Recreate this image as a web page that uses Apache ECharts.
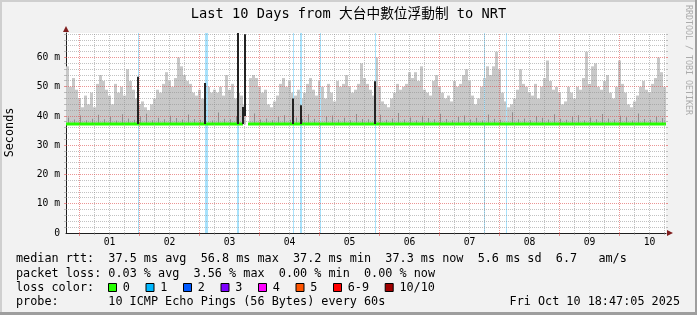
<!DOCTYPE html>
<html><head><meta charset="utf-8">
<script src="https://cdn.jsdelivr.net/npm/echarts@6/dist/echarts.min.js"></script>
<style>html,body{margin:0;padding:0;background:#f2f2f2}#c{width:697px;height:315px}</style>
</head><body><div id="c"></div>
<script>
// ---------- data (hours relative to Oct 1 00:00 local) ----------
const START_HOUR = -5.4;
const END_HOUR = 234.6;
const BIN_HOURS = 1.2;

const smokeFloor = 37.1;
const smokeTop = [
  57,50,53,49,46,43,47,44,48,43, 51,54,52,49,47,44,51,48,50,47,
  56,52,49,46,44,45,43,42,44,46, 49,48,51,55,52,50,53,60,57,54,
  52,51,48,47,49,46,45,50,48,49,
  48,50,47,54,49,51,46,48,47,44, null,53,54,53,50,48,49,44,43,45,
  47,51,53,50,52,48,47,49,46,48, 51,53,49,47,52,50,46,51,48,45,
  52,50,51,54,50,48,49,51,58,53,
  51,49,47,60,50,45,44,43,46,48, 51,49,50,51,55,53,55,52,57,49,
  48,47,52,54,50,48,46,47,45,52, 50,51,54,56,52,47,44,46,50,53,
  57,54,57,62,56,48,45,43,44,46,
  49,56,51,50,48,47,51,46,50,53, 59,52,49,50,48,44,45,50,48,46,
  50,49,53,62,51,57,58,50,49,52, 54,48,46,50,59,51,48,44,43,45,
  47,50,52,49,48,51,53,60,55,50
];
// darker smoke band near the base, one value per two bins
const darkSmoke = [
  39.5,38.8,40.2,38.6,39.1,40.4,38.9,39.8,38.5,40.6,
  39.2,38.7,39.9,40.8,38.6,39.4,38.9,40.1,39.3,38.8,
  40.5,39.0,38.7,39.6,38.5,41.2,39.1,38.9,40.0,38.6,
  null,40.9,38.8,39.2,38.6,39.8,40.3,38.7,39.5,38.9,
  40.6,39.1,38.5,39.9,40.2,38.8,39.4,38.6,40.7,39.0,
  38.9,39.6,40.4,38.7,39.2,41.0,38.8,39.5,38.6,40.1,
  39.3,38.9,40.8,39.0,38.6,39.7,40.2,38.8,39.4,38.5,
  40.5,39.1,38.7,39.8,41.3,38.9,39.2,38.6,40.0,39.4,
  38.8,40.6,39.1,38.7,39.9,40.3,38.6,39.5,38.9,40.7,
  39.2,38.8,40.1,39.6,38.5,40.9,39.0,38.7,39.8,39.3
];
// median rtt: flat segments [start hour, end hour, value]
const medianStart = [-5.4, 67.5];
const medianEnd   = [65.5, 234.6];
const medianValue = [37.3, 37.3];
// dark spikes of the median
const spikeHours = [23.4, 50.2, 63.2, 65.4, 66.2, 85.4, 88.7, 118.2];
const spikeLow   = [37.3, 37.3, 37.3, 37.3, 40.0, 37.3, 37.3, 37.3];
const spikeHigh  = [53.4, 51.3, 68.4, 43.1, 68.0, 46.0, 43.7, 51.9];
// loss (1/10) periods
const lossHours    = [23.6, 50.8, 63.4, 85.6, 88.6, 96.4, 118.4, 162.0, 170.8];
const lossDuration = [0.4, 1.2, 0.8, 0.4, 0.8, 0.4, 0.4, 0.4, 0.4];

const dayLabels = ['01','02','03','04','05','06','07','08','09','10'];
const dayLabelHours = [12,36,60,84,108,132,156,180,204,228];
const midnightHours = [0,24,48,72,96,120,144,168,192,216];
const yTickLabels = ['0','10 m','20 m','30 m','40 m','50 m','60 m'];

const rttValues = ['37.5','56.8','37.2','37.3'];
const rttSd = '5.6', rttAms = '6.7';
const lossValues = ['0.03','3.56','0.00','0.00'];
const lossLabels = ['0','1','2','3','4','5','6-9','10/10'];
const lossColors = ['#26ff00','#00b8ff','#0059ff','#7e00ff','#ff00ff','#ff5500','#ff0000','#a10000'];
const probeText = '10 ICMP Echo Pings (56 Bytes) every 60s';
const stampText = 'Fri Oct 10 18:47:05 2025';
const titleText = 'Last 10 Days from 大台中數位浮動制 to NRT';

// ---------- styles ----------
const MONO = '"DejaVu Sans Mono", "Noto Sans CJK TC", monospace';
const MINOR = 'rgba(143,143,143,0.55)';
const MAJOR = 'rgba(222,79,79,0.6)';
const YMAX = 68.4;

function binCenter(i){ return START_HOUR + BIN_HOURS*(i+0.5); }

const smokeData = [];
smokeTop.forEach((v,i)=>{ if(v!=null) smokeData.push([binCenter(i), smokeFloor, v, BIN_HOURS]); });
const darkData = [];
darkSmoke.forEach((v,j)=>{ if(v!=null) darkData.push([binCenter(2*j)+0.3, smokeFloor, v, 0]); });
const spikeData = spikeHours.map((h,i)=>[h, spikeLow[i], spikeHigh[i], 0]);
const lossData = lossHours.map((h,i)=>[h, 0, YMAX, lossDuration[i]]);
const medianData = medianStart.map((s,i)=>[s, medianEnd[i], medianValue[i]]);

const gridItems = [];
for (let h = 6; h < END_HOUR; h += 6) if (h % 24 !== 0) gridItems.push([0,h,0]);
midnightHours.forEach(h=>gridItems.push([0,h,1]));
for (let v = 2; v < YMAX; v += 2) gridItems.push([1, v, v % 10 === 0 ? 1 : 0]);

function rangeRect(color, minPx){
  return function(params, api){
    const t = api.value(0), lo = api.value(1), hi = api.value(2), w = api.value(3);
    const a = api.coord([t - w/2, hi]), b = api.coord([t + w/2, lo]);
    let x0 = Math.round(a[0]), x1 = Math.round(b[0]);
    if (x1 - x0 < minPx){ const c = Math.round((a[0]+b[0])/2 - minPx/2); x0 = c; x1 = c + minPx; }
    return {type:'rect', shape:{x:x0, y:a[1], width:x1-x0, height:b[1]-a[1]}, style:{fill:color}};
  };
}
function medianRender(params, api){
  const s = api.value(0), e = api.value(1), v = api.value(2);
  const a = api.coord([s, v]), b = api.coord([e, v]);
  const y = Math.round(a[1]) - 1.5;
  return {type:'rect', shape:{x:Math.round(a[0]), y:y, width:Math.round(b[0])-Math.round(a[0]), height:3}, style:{fill:'#26ff00'}};
}
function gridRender(params, api){
  const cs = params.coordSys;
  const orient = api.value(0), val = api.value(1), major = api.value(2);
  const color = major ? MAJOR : MINOR;
  if (orient === 0){
    const x = Math.floor(api.coord([val, 0])[0]) + 0.5;
    const yb = cs.y + cs.height;
    return {type:'group', children:[
      {type:'line', shape:{x1:x, y1:yb, x2:x, y2:cs.y}, style:{stroke:color, lineWidth:1, lineDash:[1,1]}},
      {type:'line', shape:{x1:x, y1:yb, x2:x, y2:yb+(major?3:2)}, style:{stroke:color, lineWidth:1}}
    ]};
  }
  const y = Math.floor(api.coord([START_HOUR, val])[1]) + 0.5;
  return {type:'group', children:[
    {type:'line', shape:{x1:cs.x, y1:y, x2:cs.x+cs.width, y2:y}, style:{stroke:color, lineWidth:1, lineDash:[1,1]}},
    {type:'line', shape:{x1:cs.x-2, y1:y, x2:cs.x, y2:y}, style:{stroke:color, lineWidth:1}},
    {type:'line', shape:{x1:cs.x+cs.width, y1:y, x2:cs.x+cs.width+2, y2:y}, style:{stroke:color, lineWidth:1}}
  ]};
}

// ---------- legend texts ----------
const row1 = `median rtt:  ${rttValues[0]} ms avg  ${rttValues[1]} ms max  ${rttValues[2]} ms min  ${rttValues[3]} ms now  ${rttSd} ms sd  ${rttAms}   am/s`;
const row2 = `packet loss: ${lossValues[0]} % avg  ${lossValues[1]} % max  ${lossValues[2]} % min  ${lossValues[3]} % now`;
const LEG_FONT = '11.8px ' + MONO;
const CHW = 7.1;
const graphics = [
  {type:'rect', shape:{x:0,y:0,width:697,height:2}, style:{fill:'#cfcfcf'}, silent:true},
  {type:'rect', shape:{x:0,y:0,width:2,height:315}, style:{fill:'#cfcfcf'}, silent:true},
  {type:'rect', shape:{x:695,y:0,width:2,height:315}, style:{fill:'#9e9e9e'}, silent:true},
  {type:'rect', shape:{x:0,y:312,width:697,height:3}, style:{fill:'#9e9e9e'}, silent:true},
  {type:'text', x:348.5, y:14.5, style:{text:titleText, font:'13.7px '+MONO, fill:'#000', align:'center', verticalAlign:'middle'}},
  {type:'text', x:688, y:5, rotation:-Math.PI/2, style:{text:'RRDTOOL / TOBI OETIKER', font:'8.3px '+MONO, fill:'#ababab', align:'left', verticalAlign:'middle'}},
  {type:'text', x:10, y:132.5, rotation:Math.PI/2, style:{text:'Seconds', font:LEG_FONT, fill:'#000', align:'center', verticalAlign:'middle'}},
  {type:'text', x:16, y:259.3, style:{text:row1, font:LEG_FONT, fill:'#000', align:'left', verticalAlign:'middle'}},
  {type:'text', x:16, y:273.7, style:{text:row2, font:LEG_FONT, fill:'#000', align:'left', verticalAlign:'middle'}},
  {type:'text', x:16, y:287.7, style:{text:'loss color:', font:LEG_FONT, fill:'#000', align:'left', verticalAlign:'middle'}},
  {type:'text', x:16, y:301.7, style:{text:'probe:', font:LEG_FONT, fill:'#000', align:'left', verticalAlign:'middle'}},
  {type:'text', x:16+13*CHW, y:301.7, style:{text:probeText, font:LEG_FONT, fill:'#000', align:'left', verticalAlign:'middle'}},
  {type:'text', x:680, y:301.7, style:{text:stampText, font:LEG_FONT, fill:'#000', align:'right', verticalAlign:'middle'}}
];
let lx = 108.5;
lossLabels.forEach((lab,i)=>{
  graphics.push({type:'rect', shape:{x:lx, y:283.5, width:8, height:8}, style:{fill:lossColors[i], stroke:'#000', lineWidth:1}});
  graphics.push({type:'text', x:lx+14.2, y:287.7, style:{text:lab, font:LEG_FONT, fill:'#000', align:'left', verticalAlign:'middle'}});
  lx = lx + 14.2 + lab.length*CHW + 16.2;
});

const chart = echarts.init(document.getElementById('c'), null, {renderer:'canvas', width:697, height:315});
chart.setOption({
  animation:false,
  backgroundColor:'#f2f2f2',
  grid:{left:66, top:33, width:600, height:200, show:true, backgroundColor:'#ffffff', borderWidth:0},
  xAxis:[
    {type:'value', min:START_HOUR, max:END_HOUR, position:'bottom',
     axisLine:{show:true, onZero:false, lineStyle:{color:'#1f1f1f', width:1}},
     axisTick:{show:false}, splitLine:{show:false},
     axisLabel:{customValues:dayLabelHours, margin:5, color:'#000', fontFamily:MONO, fontSize:9.7,
       formatter:(v)=>dayLabels[dayLabelHours.indexOf(v)] || ''}},
    {type:'value', min:START_HOUR, max:END_HOUR, position:'bottom', offset:0,
     axisLine:{show:true, onZero:false, symbol:['none','triangle'], symbolSize:[6,6], symbolOffset:[0,4], lineStyle:{color:'#801f1f', width:0}},
     axisTick:{show:false}, axisLabel:{show:false}, splitLine:{show:false}}
  ],
  yAxis:[
    {type:'value', min:0, max:YMAX, interval:10, position:'left',
     axisLine:{show:true, onZero:false, lineStyle:{color:'#1f1f1f', width:1}},
     axisTick:{show:false}, splitLine:{show:false},
     axisLabel:{showMaxLabel:false, margin:6, color:'#000', fontFamily:MONO, fontSize:9.7,
       formatter:(v)=>yTickLabels[Math.round(v/10)] || ''}},
    {type:'value', min:0, max:YMAX, interval:10, position:'left', offset:0,
     axisLine:{show:true, onZero:false, symbol:['none','triangle'], symbolSize:[6,6], symbolOffset:[0,4], lineStyle:{color:'#801f1f', width:0}},
     axisTick:{show:false}, axisLabel:{show:false}, splitLine:{show:false}}
  ],
  series:[
    {type:'custom', name:'smoke', z:1, data:smokeData, renderItem:rangeRect('#c8c8c8',1), encode:{x:0,y:[1,2]}},
    {type:'custom', name:'smoke-dark', z:1, data:darkData, renderItem:rangeRect('#8e8e8e',1), encode:{x:0,y:[1,2]}},
    {type:'custom', name:'loss', z:2, data:lossData, renderItem:rangeRect('#a8e2fc',1), encode:{x:0,y:[1,2]}},
    {type:'custom', name:'median', z:3, data:medianData, renderItem:medianRender, encode:{x:[0,1],y:2}},
    {type:'custom', name:'grid', z:4, silent:true, data:gridItems, renderItem:gridRender},
    {type:'custom', name:'spikes', z:5, data:spikeData, renderItem:rangeRect('#222222',2), encode:{x:0,y:[1,2]}}
  ],
  graphic:graphics
});
</script></body></html>
